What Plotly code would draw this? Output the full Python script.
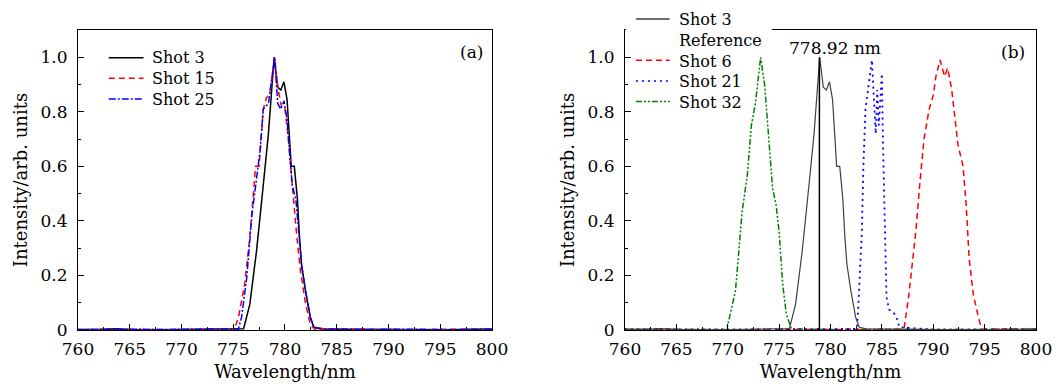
import plotly.graph_objects as go

# ---------------- data ----------------
# Panel (a)
wl_a_shot3 = [760, 762, 763.5, 765, 768, 772, 774, 775.5, 776.0, 776.6, 777.25, 777.9, 778.4, 778.95,
              779.3, 779.6, 779.9, 780.2, 780.4, 780.6, 780.9, 781.2, 781.4, 781.6, 782.0, 782.45,
              782.8, 783.5, 785, 790, 795, 800]
int_a_shot3 = [0.002, 0.002, 0.005, 0.002, 0.001, 0.002, 0.003, 0.003, 0.005, 0.094, 0.29, 0.53, 0.72, 1.0,
               0.89, 0.88, 0.91, 0.845, 0.70, 0.60, 0.60, 0.48, 0.34, 0.24, 0.14, 0.046,
               0.01, 0.004, 0.003, 0.003, 0.001, 0.004]

wl_a_shot15 = [760, 763, 766, 770, 774, 775.15, 775.5, 776.1, 776.6, 777.16, 777.5, 777.9, 778.2, 778.55,
               779.0, 779.3, 779.7, 780.0, 780.3, 780.7, 781.1, 781.5, 782.0, 782.45, 782.9, 784, 788,
               792, 796, 800]
int_a_shot15 = [0.002, 0.003, 0.002, 0.001, 0.003, 0.005, 0.046, 0.167, 0.34, 0.60, 0.60, 0.81, 0.85, 0.87,
                1.0, 0.89, 0.81, 0.81, 0.71, 0.53, 0.36, 0.215, 0.094, 0.02, 0.002, 0.004, 0.002,
                0.001, 0.003, 0.002]

wl_a_shot25 = [760, 764, 768, 772, 775, 775.5, 775.8, 776.3, 776.8, 777.25, 777.6, 777.9, 778.4, 779.0,
               779.3, 779.6, 779.9, 780.2, 780.5, 780.7, 781.05, 781.3, 781.6, 782.0, 782.45, 782.8,
               784, 788, 792, 796, 800]
int_a_shot25 = [0.001, 0.003, 0.002, 0.002, 0.003, 0.004, 0.046, 0.19, 0.42, 0.555, 0.66, 0.81, 0.83, 1.0,
                0.83, 0.81, 0.84, 0.77, 0.63, 0.53, 0.48, 0.36, 0.24, 0.14, 0.046, 0.01,
                0.004, 0.002, 0.003, 0.001, 0.003]

# Panel (b)
wl_b_shot3 = wl_a_shot3
int_b_shot3 = int_a_shot3
reference_wl = 778.92
reference_label = "778.92 nm"

wl_b_shot6 = [760, 764, 768, 772, 776, 780, 784, 787.15, 787.6, 788.3, 788.7, 789.1, 789.6, 790.0,
              790.26, 790.66, 791.1, 791.4, 791.8, 792.4, 792.9, 793.2, 793.5, 793.9, 794.4, 794.7,
              797, 800]
int_b_shot6 = [0.002, 0.003, 0.001, 0.002, 0.002, 0.002, 0.001, 0.003, 0.12, 0.36, 0.54, 0.70, 0.81, 0.86,
               0.93, 0.99, 0.93, 0.96, 0.88, 0.68, 0.60, 0.46, 0.26, 0.13, 0.046, 0.003,
               0.004, 0.002]

wl_b_shot21 = [760, 764, 768, 772, 776, 780, 782.56, 782.7, 783.05, 783.2, 783.4, 783.7, 784.03, 784.4,
               784.55, 784.7, 785.0, 785.1, 785.3, 785.45, 785.7, 786.1, 786.4, 786.7, 790, 795, 800]
int_b_shot21 = [0.003, 0.002, 0.001, 0.002, 0.002, 0.002, 0.004, 0.08, 0.36, 0.60, 0.81, 0.895, 0.99, 0.72,
                0.88, 0.75, 0.94, 0.70, 0.30, 0.12, 0.075, 0.065, 0.05, 0.01, 0.002, 0.001, 0.002]

wl_b_shot32 = [760, 764, 768, 769.9, 770.75, 771.4, 771.9, 772.3, 772.7, 773.2, 773.6, 773.9, 774.36,
               774.7, 775.0, 775.35, 775.7, 776.2, 780, 785, 790, 795, 800]
int_b_shot32 = [0.002, 0.002, 0.001, 0.002, 0.143, 0.434, 0.567, 0.75, 0.834, 1.0, 0.895, 0.75, 0.52,
                0.46, 0.36, 0.167, 0.058, 0.004, 0.002, 0.003, 0.001, 0.002, 0.002]

x_ticks = [760, 765, 770, 775, 780, 785, 790, 795, 800]
y_tickvals = [0, 0.2, 0.4, 0.6, 0.8, 1.0]
y_ticktext = ["0", "0.2", "0.4", "0.6", "0.8", "1.0"]
x_title = "Wavelength/nm"
y_title = "Intensity/arb. units"

legend_a_names = ["Shot 3", "Shot 15", "Shot 25"]
legend_b_names = ["Shot 3", "Reference", "Shot 6", "Shot 21", "Shot 32"]

# ---------------- figure ----------------
W, H = 1064, 390
L, R, T, B = 78, 21, 30, 57
pw = W - L - R
ph = H - T - B
FONT = "DejaVu Serif"
TICK_FS = 17
TITLE_FS = 18
LEG_FS = 16
LINE_H = 1.3 * LEG_FS  # plotly multi-line spacing


def px_x(p):
    return (p - L) / pw


def px_y(p):
    return (H - B - p) / ph


STYLE = {
    "black": dict(color="#000000", dash="solid", width=1.5),
    "red": dict(color="#ff0000", dash="6px,4px", width=1.5),
    "blue_dd": dict(color="#0000ff", dash="7px,2px,2px,2px", width=1.5),
    "gray": dict(color="#404040", dash="solid", width=1.2),
    "blue_dot": dict(color="#0000ff", dash="2px,4px", width=1.8),
    "green": dict(color="#008000", dash="6px,2px,2px,2px,2px,2px", width=1.5),
}

fig = go.Figure()


def add(x, y, style, xa, ya, name):
    fig.add_trace(go.Scatter(x=x, y=y, mode="lines", name=name, showlegend=False,
                             line=STYLE[style], xaxis=xa, yaxis=ya))


add(wl_a_shot3, int_a_shot3, "black", "x", "y", "Shot 3")
add(wl_a_shot15, int_a_shot15, "red", "x", "y", "Shot 15")
add(wl_a_shot25, int_a_shot25, "blue_dd", "x", "y", "Shot 25")

add(wl_b_shot32, int_b_shot32, "green", "x2", "y2", "Shot 32")
add(wl_b_shot6, int_b_shot6, "red", "x2", "y2", "Shot 6")
add(wl_b_shot21, int_b_shot21, "blue_dot", "x2", "y2", "Shot 21")
add(wl_b_shot3, int_b_shot3, "gray", "x2", "y2", "Shot 3")
add([reference_wl, reference_wl], [0, 1.0], "black", "x2", "y2", "Reference")

axis_common = dict(range=[760, 800], tickvals=x_ticks, ticks="inside", ticklen=6, tickwidth=1,
                   tickcolor="black", showline=True, linecolor="black", linewidth=1, mirror=True,
                   showgrid=False, zeroline=False, ticklabelstandoff=4,
                   tickfont=dict(family=FONT, size=TICK_FS, color="black"),
                   minor=dict(ticks="inside", ticklen=3, tickcolor="black", dtick=2.5, tick0=760,
                              showgrid=False),
                   title=dict(text=x_title, font=dict(family=FONT, size=TITLE_FS, color="black"),
                              standoff=6))
yaxis_common = dict(range=[0, 1.1], tickvals=y_tickvals, ticktext=y_ticktext, ticks="inside",
                    ticklen=6, tickwidth=1, tickcolor="black", showline=True, linecolor="black",
                    linewidth=1, mirror=True, showgrid=False, zeroline=False, ticklabelstandoff=6,
                    tickfont=dict(family=FONT, size=TICK_FS, color="black"),
                    minor=dict(ticks="inside", ticklen=3, tickcolor="black", dtick=0.1, tick0=0,
                               showgrid=False),
                    title=dict(text=y_title, font=dict(family=FONT, size=TITLE_FS, color="black"),
                               standoff=8))

xa_end = px_x(495)
xb_start = px_x(629)

fig.update_layout(
    width=W, height=H, margin=dict(l=L, r=R, t=T, b=B),
    paper_bgcolor="white", plot_bgcolor="white", showlegend=False,
    font=dict(family=FONT, size=TICK_FS, color="black"),
    xaxis=dict(domain=[0, xa_end], anchor="y", **axis_common),
    yaxis=dict(domain=[0, 1], anchor="x", **yaxis_common),
    xaxis2=dict(domain=[xb_start, 1], anchor="y2", **axis_common),
    yaxis2=dict(domain=[0, 1], anchor="x2", **yaxis_common),
)

annotations = []
shapes = []

# panel labels and reference label
annotations.append(dict(x=798.0, y=1.02, xref="x", yref="y", text="(a)", showarrow=False,
                        font=dict(family=FONT, size=TICK_FS), xanchor="center", yanchor="middle"))
annotations.append(dict(x=797.8, y=1.02, xref="x2", yref="y2", text="(b)", showarrow=False,
                        font=dict(family=FONT, size=TICK_FS), xanchor="center", yanchor="middle"))
annotations.append(dict(x=780.4, y=1.035, xref="x2", yref="y2", text=reference_label, showarrow=False,
                        font=dict(family=FONT, size=TICK_FS), xanchor="center", yanchor="middle"))

# white patch hiding the top frame behind legend (b)
shapes.append(dict(type="rect", xref="paper", yref="paper", x0=px_x(630), x1=px_x(777),
                   y0=px_y(33), y1=px_y(27), fillcolor="white", line=dict(width=0), layer="above"))


def manual_legend(names, sample_rows, x_line0, x_line1, x_text, y_first):
    # one text block, line samples drawn next to given rows
    n = len(names)
    y_top = y_first - LINE_H / 2
    annotations.append(dict(x=px_x(x_text), y=px_y(y_top), xref="paper", yref="paper",
                            text="<br>".join(names), showarrow=False, xanchor="left", yanchor="top",
                            align="left", borderpad=0,
                            font=dict(family=FONT, size=LEG_FS, color="black")))
    for row, style in sample_rows:
        yy = y_first + row * LINE_H
        st = STYLE[style]
        shapes.append(dict(type="line", xref="paper", yref="paper", x0=px_x(x_line0), x1=px_x(x_line1),
                           y0=px_y(yy), y1=px_y(yy),
                           line=dict(color=st["color"], dash=st["dash"], width=1.5), layer="above"))


manual_legend(legend_a_names, [(0, "black"), (1, "red"), (2, "blue_dd")], 109, 144, 152, 58)
manual_legend(legend_b_names, [(0, "gray"), (2, "red"), (3, "blue_dot"), (4, "green")],
              640, 674, 682, 19)

fig.update_layout(annotations=annotations, shapes=shapes)

fig.write_html("out.html")
